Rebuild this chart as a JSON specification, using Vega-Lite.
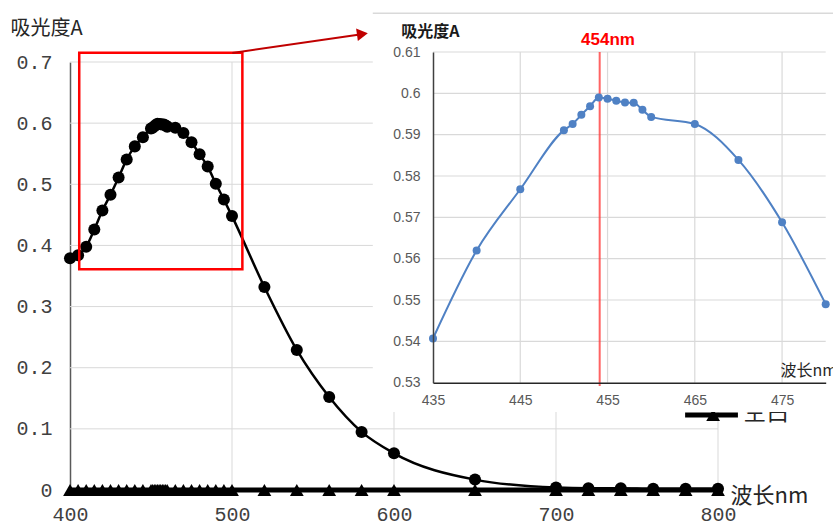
{
  "$schema": "https://vega.github.io/schema/vega-lite/v6.json",
  "width": 833,
  "height": 523,
  "autosize": {"type": "none"},
  "padding": 0,
  "background": "white",
  "config": {"view": {"stroke": null}},
  "datasets": {
    "spec": [
      {"wl": 400, "A": 0.379, "blank": 0},
      {"wl": 405, "A": 0.384, "blank": 0},
      {"wl": 410, "A": 0.398, "blank": 0},
      {"wl": 415, "A": 0.426, "blank": 0},
      {"wl": 420, "A": 0.457, "blank": 0},
      {"wl": 425, "A": 0.483, "blank": 0},
      {"wl": 430, "A": 0.511, "blank": 0},
      {"wl": 435, "A": 0.5407, "blank": 0},
      {"wl": 440, "A": 0.562, "blank": 0},
      {"wl": 445, "A": 0.5768, "blank": 0},
      {"wl": 450, "A": 0.5911, "blank": 0},
      {"wl": 451, "A": 0.5926, "blank": 0},
      {"wl": 452, "A": 0.5948, "blank": 0},
      {"wl": 453, "A": 0.5969, "blank": 0},
      {"wl": 454, "A": 0.599, "blank": 0},
      {"wl": 455, "A": 0.5987, "blank": 0},
      {"wl": 456, "A": 0.5982, "blank": 0},
      {"wl": 457, "A": 0.5978, "blank": 0},
      {"wl": 458, "A": 0.5977, "blank": 0},
      {"wl": 459, "A": 0.596, "blank": 0},
      {"wl": 460, "A": 0.5943, "blank": 0},
      {"wl": 465, "A": 0.5926, "blank": 0},
      {"wl": 470, "A": 0.5839, "blank": 0},
      {"wl": 475, "A": 0.5688, "blank": 0},
      {"wl": 480, "A": 0.549, "blank": 0},
      {"wl": 485, "A": 0.529, "blank": 0},
      {"wl": 490, "A": 0.501, "blank": 0},
      {"wl": 495, "A": 0.475, "blank": 0},
      {"wl": 500, "A": 0.448, "blank": 0},
      {"wl": 520, "A": 0.332, "blank": 0},
      {"wl": 540, "A": 0.229, "blank": 0},
      {"wl": 560, "A": 0.152, "blank": 0},
      {"wl": 580, "A": 0.095, "blank": 0},
      {"wl": 600, "A": 0.06, "blank": 0},
      {"wl": 650, "A": 0.017, "blank": 0},
      {"wl": 700, "A": 0.004, "blank": 0},
      {"wl": 720, "A": 0.003, "blank": 0},
      {"wl": 740, "A": 0.003, "blank": 0},
      {"wl": 760, "A": 0.002, "blank": 0},
      {"wl": 780, "A": 0.002, "blank": 0},
      {"wl": 800, "A": 0.002, "blank": 0}
    ],
    "one": [{"k": 1}],
    "mainGridY": [{"v": 0.1}, {"v": 0.2}, {"v": 0.3}, {"v": 0.4}, {"v": 0.5}, {"v": 0.6}, {"v": 0.7}],
    "mainGridX": [{"v": 500}, {"v": 600}, {"v": 700}, {"v": 800}],
    "insetGridY": [{"v": 0.54}, {"v": 0.55}, {"v": 0.56}, {"v": 0.57}, {"v": 0.58}, {"v": 0.59}, {"v": 0.6}, {"v": 0.61}],
    "insetGridX": [{"v": 445}, {"v": 455}, {"v": 465}, {"v": 475}]
  },
  "layer": [
    {
      "layer": [
        {
          "data": {"name": "mainGridY"},
          "mark": {"type": "rule", "stroke": "#d9d9d9", "strokeWidth": 1},
          "encoding": {
            "y": {
              "field": "v", "type": "quantitative",
              "scale": {"domain": [0, 0.7], "range": [490, 62], "nice": false, "zero": false},
              "axis": {
                "orient": "left", "offset": -70, "values": [0, 0.1, 0.2, 0.3, 0.4, 0.5, 0.6, 0.7], "format": "~g",
                "grid": false, "ticks": false, "labelPadding": 18, "labelFont": "Liberation Mono", "labelFontSize": 20,
                "labelColor": "#404040", "domainColor": "#595959", "domainWidth": 1.5, "zindex": 0,
                "title": "吸光度A", "titleFont": "Noto Sans CJK SC", "titleFontSize": 20, "titleFontWeight": "normal",
                "titleColor": "#262626", "titleAngle": 0, "titleX": -60, "titleY": 28, "titleAlign": "left", "titleBaseline": "middle"
              }
            },
            "x": {
              "datum": 400, "type": "quantitative",
              "scale": {"domain": [400, 800], "range": [70, 718], "nice": false, "zero": false},
              "axis": {
                "orient": "bottom", "offset": -33, "values": [400, 500, 600, 700, 800],
                "grid": false, "ticks": false, "labelPadding": 14, "labelFont": "Liberation Mono", "labelFontSize": 20,
                "labelColor": "#404040", "labelFlush": false, "domainColor": "#595959", "domainWidth": 1.5, "zindex": 0,
                "title": "波长nm", "titleFont": "Noto Sans CJK SC", "titleFontSize": 22, "titleFontWeight": "normal",
                "titleColor": "#262626", "titleX": 730, "titleY": 5, "titleAlign": "left", "titleBaseline": "middle"
              }
            },
            "x2": {"datum": 800}
          }
        },
        {
          "data": {"name": "mainGridX"},
          "mark": {"type": "rule", "stroke": "#d9d9d9", "strokeWidth": 1},
          "encoding": {
            "x": {"field": "v", "type": "quantitative"},
            "y": {"datum": 0, "type": "quantitative"},
            "y2": {"datum": 0.7}
          }
        },
        {
          "data": {"name": "spec"},
          "mark": {"type": "line", "stroke": "black", "strokeWidth": 5},
          "encoding": {
            "x": {"field": "wl", "type": "quantitative"},
            "y": {"field": "blank", "type": "quantitative"}
          }
        },
        {
          "data": {"name": "spec"},
          "mark": {"type": "point", "shape": "triangle-up", "filled": true, "fill": "black", "opacity": 1, "size": 190},
          "encoding": {
            "x": {"field": "wl", "type": "quantitative"},
            "y": {"field": "blank", "type": "quantitative"}
          }
        },
        {
          "data": {"name": "spec"},
          "mark": {"type": "line", "stroke": "black", "strokeWidth": 2.5, "interpolate": "monotone"},
          "encoding": {
            "x": {"field": "wl", "type": "quantitative"},
            "y": {"field": "A", "type": "quantitative"}
          }
        },
        {
          "data": {"name": "spec"},
          "mark": {"type": "point", "shape": "circle", "filled": true, "fill": "black", "opacity": 1, "size": 145},
          "encoding": {
            "x": {"field": "wl", "type": "quantitative"},
            "y": {"field": "A", "type": "quantitative"}
          }
        },
        {
          "data": {"name": "one"},
          "mark": {"type": "rect", "filled": false, "stroke": "#ff0000", "strokeWidth": 2.5},
          "encoding": {
            "x": {"datum": 405.7, "type": "quantitative"},
            "x2": {"datum": 506.4},
            "y": {"datum": 0.361, "type": "quantitative"},
            "y2": {"datum": 0.715}
          }
        },
        {
          "data": {"name": "one"},
          "mark": {"type": "rule", "stroke": "#c00000", "strokeWidth": 2},
          "encoding": {
            "x": {"datum": 500.2, "type": "quantitative"},
            "x2": {"datum": 580},
            "y": {"datum": 0.7147, "type": "quantitative"},
            "y2": {"datum": 0.7455}
          }
        },
        {
          "data": {"name": "one"},
          "mark": {"type": "point", "shape": "triangle-right", "filled": true, "fill": "#c00000", "opacity": 1, "size": 160, "angle": 352},
          "encoding": {
            "x": {"datum": 580.5, "type": "quantitative"},
            "y": {"datum": 0.7457, "type": "quantitative"}
          }
        },
        {
          "data": {"name": "one"},
          "mark": {"type": "rule", "stroke": "black", "strokeWidth": 5},
          "encoding": {
            "x": {"datum": 779.7, "type": "quantitative"},
            "x2": {"datum": 812.3},
            "y": {"datum": 0.1226, "type": "quantitative"}
          }
        },
        {
          "data": {"name": "one"},
          "mark": {"type": "point", "shape": "triangle-up", "filled": true, "fill": "black", "opacity": 1, "size": 190},
          "encoding": {
            "x": {"datum": 797, "type": "quantitative"},
            "y": {"datum": 0.1226, "type": "quantitative"}
          }
        },
        {
          "data": {"name": "one"},
          "mark": {"type": "text", "text": "空白", "font": "Noto Sans CJK SC", "fontSize": 23, "align": "left", "baseline": "alphabetic", "fill": "#262626"},
          "encoding": {
            "x": {"datum": 815.6, "type": "quantitative"},
            "y": {"datum": 0.1145, "type": "quantitative"}
          }
        }
      ]
    },
    {
      "layer": [
        {
          "data": {"name": "one"},
          "mark": {"type": "rect", "fill": "white"},
          "encoding": {
            "x": {
              "datum": 428.1, "type": "quantitative",
              "scale": {"domain": [435, 480], "range": [433, 825.7], "nice": false, "zero": false},
              "axis": {
                "orient": "bottom", "offset": -140.3, "values": [435, 445, 455, 465, 475],
                "grid": false, "ticks": false, "labelPadding": 11, "labelFont": "Liberation Sans", "labelFontSize": 14,
                "labelColor": "#595959", "labelFlush": false, "domainColor": "#262626", "domainWidth": 1.5, "zindex": 1,
                "title": "波长nm", "titleFont": "Noto Sans CJK SC", "titleFontSize": 16, "titleFontWeight": "normal",
                "titleColor": "#262626", "titleX": 780, "titleY": -12.7, "titleAlign": "left", "titleBaseline": "middle"
              }
            },
            "x2": {"datum": 483},
            "y": {
              "datum": 0.5229, "type": "quantitative",
              "scale": {"domain": [0.53, 0.61], "range": [382.7, 52], "nice": false, "zero": false},
              "axis": {
                "orient": "left", "offset": -433, "values": [0.53, 0.54, 0.55, 0.56, 0.57, 0.58, 0.59, 0.6, 0.61], "format": "~g",
                "grid": false, "ticks": false, "labelPadding": 13, "labelFont": "Liberation Sans", "labelFontSize": 14,
                "labelColor": "#595959", "domainColor": "#404040", "domainWidth": 1.5, "zindex": 1,
                "title": "吸光度A", "titleFont": "Noto Sans CJK SC", "titleFontSize": 16, "titleFontWeight": "bold",
                "titleColor": "#1a1a1a", "titleAngle": 0, "titleX": -32.3, "titleY": 31.5, "titleAlign": "left", "titleBaseline": "middle"
              }
            },
            "y2": {"datum": 0.6194}
          }
        },
        {
          "data": {"name": "one"},
          "mark": {"type": "rule", "stroke": "#d9d9d9", "strokeWidth": 1.5},
          "encoding": {
            "x": {"datum": 428.1, "type": "quantitative"},
            "x2": {"datum": 483},
            "y": {"datum": 0.6194, "type": "quantitative"}
          }
        },
        {
          "data": {"name": "insetGridY"},
          "mark": {"type": "rule", "stroke": "#d9d9d9", "strokeWidth": 1.2},
          "encoding": {
            "y": {"field": "v", "type": "quantitative"},
            "x": {"datum": 435, "type": "quantitative"},
            "x2": {"datum": 480}
          }
        },
        {
          "data": {"name": "insetGridX"},
          "mark": {"type": "rule", "stroke": "#d9d9d9", "strokeWidth": 1.2},
          "encoding": {
            "x": {"field": "v", "type": "quantitative"},
            "y": {"datum": 0.53, "type": "quantitative"},
            "y2": {"datum": 0.61}
          }
        },
        {
          "data": {"name": "one"},
          "mark": {"type": "rule", "stroke": "#ff3030", "strokeWidth": 2, "opacity": 0.75},
          "encoding": {
            "x": {"datum": 454.1, "type": "quantitative"},
            "y": {"datum": 0.5292, "type": "quantitative"},
            "y2": {"datum": 0.61}
          }
        },
        {
          "data": {"name": "spec"},
          "transform": [{"filter": "datum.wl >= 435 && datum.wl <= 480"}],
          "mark": {"type": "line", "stroke": "#4f81c4", "strokeWidth": 2, "interpolate": "monotone"},
          "encoding": {
            "x": {"field": "wl", "type": "quantitative"},
            "y": {"field": "A", "type": "quantitative"}
          }
        },
        {
          "data": {"name": "spec"},
          "transform": [{"filter": "datum.wl >= 435 && datum.wl <= 480"}],
          "mark": {"type": "point", "shape": "circle", "filled": true, "fill": "#4f81c4", "opacity": 1, "size": 64},
          "encoding": {
            "x": {"field": "wl", "type": "quantitative"},
            "y": {"field": "A", "type": "quantitative"}
          }
        },
        {
          "data": {"name": "one"},
          "mark": {"type": "text", "text": "454nm", "font": "Liberation Sans", "fontSize": 17, "fontWeight": "bold", "fill": "#ff0000", "align": "center", "baseline": "middle"},
          "encoding": {
            "x": {"datum": 455.05, "type": "quantitative"},
            "y": {"datum": 0.613, "type": "quantitative"}
          }
        }
      ]
    }
  ],
  "resolve": {"scale": {"x": "independent", "y": "independent"}, "axis": {"x": "independent", "y": "independent"}}
}
